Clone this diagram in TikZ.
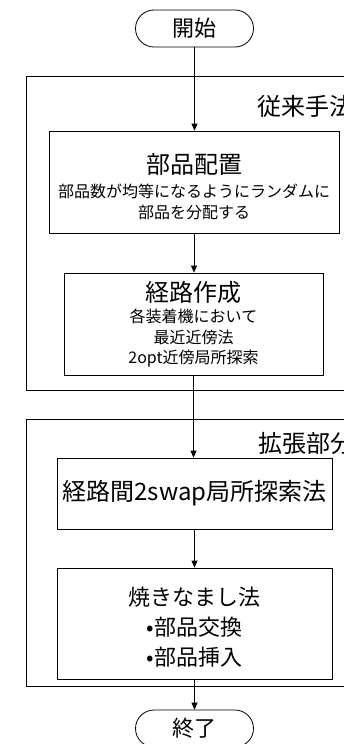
\documentclass[tikz,border=0pt]{standalone}
\usepackage{fontspec}
\setmainfont{Noto Sans CJK JP}
\usetikzlibrary{arrows.meta,shapes.misc}
\begin{document}
\begin{tikzpicture}[x=1pt,y=-1pt,
  line width=0.8pt,
  term/.style={draw, rounded rectangle, minimum width=118pt, minimum height=37pt, inner sep=0pt, font=\fontsize{22}{24}\selectfont},
  proc/.style={draw, rectangle, inner sep=0pt, align=center},
  group/.style={draw, rectangle, inner sep=0pt},
  grouplabel/.style={anchor=west, inner sep=0pt, font=\fontsize{24}{26}\selectfont},
  flow/.style={-{Triangle[length=7pt,width=6pt]}},
]
\useasboundingbox (0,0) rectangle (344,744);
\clip (0,0) rectangle (344,744);

% containers
\node[group, minimum width=344pt, minimum height=314pt] (g1) at (198,233) {};
\node[group, minimum width=344pt, minimum height=267pt] (g2) at (198,552.5) {};
\node[grouplabel] (g1label) at (257,106) {従来手法};
\node[grouplabel] (g2label) at (258,443) {拡張部分};

% terminators
\node[term] (start) at (194.5,28.5) {開始};
\node[term] (stop) at (194.5,728.5) {終了};

% process boxes
\node[proc, minimum width=290pt, minimum height=102pt, font=\fontsize{16}{21}\selectfont] (b1) at (194,182)
  {{\fontsize{24}{26}\selectfont\rule{0pt}{29pt}部品配置}\\[3pt]部品数が均等になるようにランダムに\\部品を分配する};
\node[proc, minimum width=259pt, minimum height=102pt, font=\fontsize{16}{20.5}\selectfont] (b2) at (193.5,324)
  {{\fontsize{24}{26}\selectfont 経路作成}\\[1pt]各装着機において\\最近近傍法\\2opt近傍局所探索};
\node[proc, minimum width=275pt, minimum height=71pt, font=\fontsize{24}{26}\selectfont] (b3) at (194.5,493.5)
  {経路間2swap局所探索法};
\node[proc, minimum width=275pt, minimum height=111pt, font=\fontsize{22}{30}\selectfont] (b4) at (194.5,623.5)
  {\rule{0pt}{26pt}焼きなまし法\\•部品交換\\•部品挿入};

% connectors
\draw[flow] (start.south) -- (start.south |- b1.north);
\draw[flow] (b1.south) -- (b1.south |- b2.north);
\draw[flow] (b2.south) -- (b2.south |- b3.north);
\draw[flow] (b3.south) -- (b3.south |- b4.north);
\draw[flow] (b4.south) -- (b4.south |- stop.north);
\end{tikzpicture}
\end{document}
